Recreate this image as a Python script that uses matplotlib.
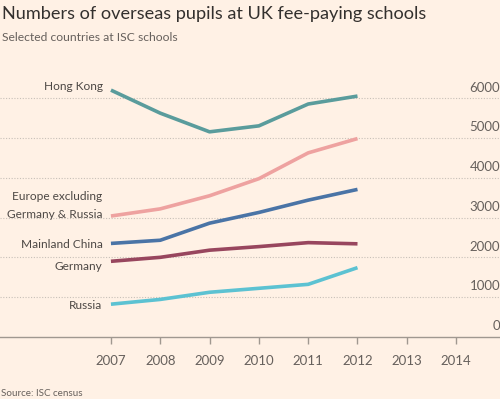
import matplotlib
matplotlib.use("Agg")
import matplotlib.pyplot as plt
import matplotlib.transforms as mtransforms

plt.rcParams['font.family'] = ['Lato', 'DejaVu Sans']

years = [2007, 2008, 2009, 2010, 2011, 2012]
hong_kong = [6210, 5630, 5160, 5310, 5860, 6060]
europe = [3040, 3220, 3550, 3980, 4630, 4990]
china = [2350, 2430, 2860, 3130, 3440, 3710]
germany = [1900, 2000, 2180, 2270, 2370, 2340]
russia = [820, 940, 1120, 1220, 1320, 1740]

series_names = ["Hong Kong", "Europe excluding\nGermany & Russia", "Mainland China", "Germany", "Russia"]
series_values = [hong_kong, europe, china, germany, russia]
series_colors = ["#5a9c9c", "#eea2a0", "#4a74a6", "#98465e", "#5cc2d2"]

xticks = [2007, 2008, 2009, 2010, 2011, 2012, 2013, 2014]
yticks = [0, 1000, 2000, 3000, 4000, 5000, 6000]

bg = "#fff1e5"
fig = plt.figure(figsize=(5.0, 3.99), dpi=100, facecolor=bg)
ax = fig.add_axes([0.0, 0.156, 1.0, 0.647], facecolor=bg)
ax.set_xlim(2004.75, 2014.89)
ax.set_ylim(0, 6500)

for s in ["top", "left", "right"]:
    ax.spines[s].set_visible(False)
ax.spines["bottom"].set_color("#a09890")
ax.spines["bottom"].set_linewidth(1.0)

for v in yticks[1:]:
    ax.axhline(v, color="#c8c0b8", linestyle=(0, (1, 1.5)), linewidth=0.8, zorder=1)

for vals, col in zip(series_values, series_colors):
    ax.plot(years, vals, color=col, linewidth=2.6, solid_capstyle="butt", zorder=3)

ax.set_xticks(xticks)
ax.set_xticklabels([str(x) for x in xticks])
ax.tick_params(axis="x", direction="out", length=5, width=1, color="#a09890",
               pad=8, labelsize=9.5, labelcolor="#66605c")
ax.set_yticks([])

tr = mtransforms.blended_transform_factory(ax.transAxes, ax.transData)
for v in yticks:
    ax.text(1.0, v + 120, str(v), transform=tr, ha="right", va="bottom",
            fontsize=9.5, color="#66605c")

# series labels at left
lab_x = 2007 - 0.17
lab_fs = 8.6
lab_col = "#4d4845"
ax.text(lab_x, hong_kong[0] + 100, series_names[0], ha="right", va="center", fontsize=lab_fs, color=lab_col)
ax.text(lab_x, europe[0] + 265, series_names[1], ha="right", va="center", fontsize=lab_fs, color=lab_col,
        linespacing=1.85)
ax.text(lab_x, china[0] - 15, series_names[2], ha="right", va="center", fontsize=lab_fs, color=lab_col)
ax.text(lab_x, germany[0] - 140, series_names[3], ha="right", va="center", fontsize=lab_fs, color=lab_col)
ax.text(lab_x, russia[0] - 30, series_names[4], ha="right", va="center", fontsize=lab_fs, color=lab_col)

fig.text(0.004, 0.965, "Numbers of overseas pupils at UK fee-paying schools", ha="left", va="center",
         fontsize=13.1, color="#33302e")
fig.text(0.004, 0.905, "Selected countries at ISC schools", ha="left", va="center",
         fontsize=8.7, color="#66605c")
fig.text(0.002, 0.015, "Source: ISC census", ha="left", va="center", fontsize=7.1, color="#66605c")

fig.savefig("out.png", dpi=100, facecolor=bg)
